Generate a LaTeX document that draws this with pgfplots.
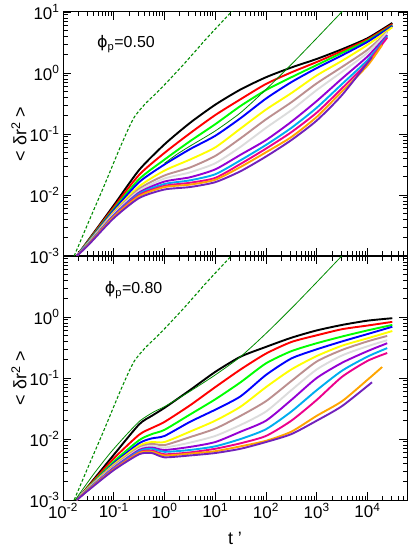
\documentclass[border=0pt]{standalone}
\usepackage{fontspec}
\setmainfont{Liberation Sans}
\newfontfamily\dejavu{DejaVu Sans}
\usepackage{pgfplots}
\pgfplotsset{compat=1.18}
\definecolor{gbrown}{RGB}{188,143,143}
\definecolor{ggrey}{RGB}{220,220,220}
\definecolor{gviolet}{RGB}{148,0,211}
\definecolor{gorange}{RGB}{255,165,0}
\definecolor{gindigo}{RGB}{114,33,188}
\definecolor{ggreen}{RGB}{0,255,0}
\definecolor{ggreenfour}{RGB}{0,139,0}
\definecolor{gyellow}{RGB}{255,255,0}
% Both axes are drawn on log10 scales: the data below are log10(t') and log10(<dr^2>),
% tick labels give the decades.
\pgfplotsset{
 msdaxis/.style={
  scale only axis, width=344bp, height=244bp,
  xmin=-2, xmax=4.78, ymin=-3, ymax=1,
  tick align=inside, major tick length=8bp, minor tick length=4.5bp,
  tick style={black, line width=0.8bp},
  axis line style={line width=1bp},
  xtick={-2,-1,0,1,2,3,4},
  minor xtick={-1.699,-1.523,-1.398,-1.301,-1.222,-1.155,-1.097,-1.046,-0.699,-0.523,-0.398,-0.301,-0.222,-0.155,-0.097,-0.046,0.301,0.477,0.602,0.699,0.778,0.845,0.903,0.954,1.301,1.477,1.602,1.699,1.778,1.845,1.903,1.954,2.301,2.477,2.602,2.699,2.778,2.845,2.903,2.954,3.301,3.477,3.602,3.699,3.778,3.845,3.903,3.954,4.301,4.477,4.602,4.699},
  ytick={-3,-2,-1,0,1},
  minor ytick={-2.699,-2.523,-2.398,-2.301,-2.222,-2.155,-2.097,-2.046,-1.699,-1.523,-1.398,-1.301,-1.222,-1.155,-1.097,-1.046,-0.699,-0.523,-0.398,-0.301,-0.222,-0.155,-0.097,-0.046,0.301,0.477,0.602,0.699,0.778,0.845,0.903,0.954},
  tick label style={font=\fontsize{17}{17}\selectfont},
  label style={font=\fontsize{18}{18}\selectfont},
  ylabel={< δr\textsuperscript{2} >},
  ylabel style={at={(axis description cs:-0.128,0.5)}, anchor=center},
 },
 cv/.style={line width=1.9bp, smooth, tension=0.4},
 thinref/.style={ggreenfour, line width=0.8bp, smooth, tension=0.4},
 dashref/.style={ggreenfour, line width=1.1bp, dash pattern=on 3bp off 2bp, smooth, tension=0.4},
}
\begin{document}
\begin{tikzpicture}
\path[use as bounding box] (-63bp,-48bp) rectangle (346bp,500bp);
% ---------------- top panel, phi_p = 0.50 ----------------
\begin{axis}[msdaxis, at={(0,244bp)}, anchor=south west,
  xticklabels={},
  yticklabels={10\textsuperscript{-3},10\textsuperscript{-2},10\textsuperscript{-1},10\textsuperscript{0},10\textsuperscript{1}}]
\addplot[cv, black] coordinates {(-1.73,-3.0) (-1.5,-2.74) (-1.0,-2.17) (-0.5,-1.59) (0.0,-1.17) (0.5,-0.82) (1.0,-0.52) (1.5,-0.27) (2.0,-0.07) (2.5,0.09) (3.0,0.23) (3.5,0.39) (4.0,0.57) (4.49,0.82)};
\addplot[cv, red] coordinates {(-1.73,-3.0) (-1.5,-2.75) (-1.0,-2.20) (-0.5,-1.67) (0.0,-1.31) (0.5,-0.99) (1.0,-0.69) (1.5,-0.43) (2.0,-0.18) (2.5,0.01) (3.0,0.18) (3.5,0.36) (4.0,0.55) (4.49,0.80)};
\addplot[cv, ggreen] coordinates {(-1.73,-3.0) (-1.5,-2.76) (-1.0,-2.23) (-0.5,-1.74) (0.0,-1.42) (0.5,-1.12) (1.0,-0.84) (1.5,-0.54) (2.0,-0.28) (2.5,-0.07) (3.0,0.13) (3.5,0.33) (4.0,0.53) (4.49,0.78)};
\addplot[cv, blue] coordinates {(-1.73,-3.0) (-1.5,-2.77) (-1.0,-2.25) (-0.5,-1.79) (0.0,-1.50) (0.5,-1.25) (1.0,-1.03) (1.5,-0.74) (2.0,-0.42) (2.5,-0.15) (3.0,0.08) (3.5,0.29) (4.0,0.51) (4.49,0.77)};
\addplot[cv, gyellow] coordinates {(-1.73,-3.0) (-1.5,-2.78) (-1.0,-2.28) (-0.5,-1.86) (0.0,-1.60) (0.5,-1.42) (1.0,-1.22) (1.5,-0.91) (2.0,-0.60) (2.5,-0.33) (3.0,-0.04) (3.5,0.20) (4.0,0.46) (4.49,0.75)};
\addplot[cv, gbrown] coordinates {(-1.73,-3.0) (-1.5,-2.79) (-1.0,-2.30) (-0.5,-1.90) (0.0,-1.68) (0.5,-1.55) (1.0,-1.36) (1.5,-1.07) (2.0,-0.76) (2.5,-0.48) (3.0,-0.17) (3.5,0.10) (4.0,0.38) (4.39,0.67)};
\addplot[cv, ggrey] coordinates {(-1.73,-3.0) (-1.5,-2.79) (-1.0,-2.31) (-0.5,-1.93) (0.0,-1.73) (0.5,-1.63) (1.0,-1.48) (1.5,-1.21) (2.0,-0.90) (2.5,-0.61) (3.0,-0.28) (3.5,0.02) (4.0,0.33) (4.39,0.66)};
\addplot[cv, gviolet] coordinates {(-1.73,-3.0) (-1.5,-2.80) (-1.0,-2.33) (-0.5,-1.96) (0.0,-1.78) (0.5,-1.71) (1.0,-1.58) (1.5,-1.34) (2.0,-1.10) (2.5,-0.80) (3.0,-0.46) (3.5,-0.09) (4.0,0.27) (4.39,0.62)};
\addplot[cv, cyan] coordinates {(-1.73,-3.0) (-1.5,-2.80) (-1.0,-2.34) (-0.5,-1.98) (0.0,-1.82) (0.5,-1.76) (1.0,-1.66) (1.5,-1.43) (2.0,-1.18) (2.5,-0.90) (3.0,-0.57) (3.5,-0.18) (4.0,0.21) (4.39,0.60)};
\addplot[cv, magenta] coordinates {(-1.73,-3.0) (-1.5,-2.81) (-1.0,-2.35) (-0.5,-2.0) (0.0,-1.85) (0.5,-1.80) (1.0,-1.72) (1.5,-1.49) (2.0,-1.24) (2.5,-0.97) (3.0,-0.65) (3.5,-0.25) (4.0,0.17) (4.39,0.58)};
\addplot[cv, gorange] coordinates {(-1.73,-3.0) (-1.5,-2.81) (-1.0,-2.36) (-0.5,-2.02) (0.0,-1.87) (0.5,-1.83) (1.0,-1.75) (1.5,-1.54) (2.0,-1.30) (2.5,-1.05) (3.0,-0.72) (3.5,-0.30) (4.0,0.12) (4.29,0.46)};
\addplot[cv, gindigo] coordinates {(-1.73,-3.0) (-1.5,-2.82) (-1.0,-2.38) (-0.5,-2.05) (0.0,-1.91) (0.5,-1.87) (1.0,-1.79) (1.5,-1.61) (2.0,-1.37) (2.5,-1.10) (3.0,-0.78) (3.5,-0.36) (4.09,0.26)};
\addplot[thinref] coordinates {(0.0,-1.48) (0.25,-1.33) (0.5,-1.20) (1.0,-0.95) (1.5,-0.65) (2.0,-0.27) (2.5,0.14) (3.0,0.57) (3.55,1.05)};
\addplot[dashref] coordinates {(-1.78,-3.0) (-1.5,-2.45) (-1.2,-1.87) (-0.9,-1.27) (-0.72,-0.93) (-0.6,-0.73) (-0.48,-0.60) (-0.35,-0.48) (-0.1,-0.28) (0.31,0.08) (0.6,0.35) (0.8,0.54) (1.0,0.72) (1.35,1.03)};
\node[anchor=west, inner sep=0pt, font=\fontsize{16}{16}\selectfont] at (axis cs:-1.33,0.477) {{\dejavu ϕ}\textsubscript{p}=0.50};
\end{axis}
% ---------------- bottom panel, phi_p = 0.80 ----------------
\begin{axis}[msdaxis, at={(0,0)}, anchor=south west,
  xlabel={t '},
  xlabel style={at={(axis description cs:0.5,-0.156)}, anchor=center},
  xticklabels={10\textsuperscript{-2},10\textsuperscript{-1},10\textsuperscript{0},10\textsuperscript{1},10\textsuperscript{2},10\textsuperscript{3},10\textsuperscript{4}},
  yticklabels={10\textsuperscript{-3},10\textsuperscript{-2},10\textsuperscript{-1},10\textsuperscript{0},{}}]
\addplot[cv, black] coordinates {(-1.73,-3.0) (-1.5,-2.77) (-1.0,-2.26) (-0.5,-1.76) (-0.25,-1.62) (0.0,-1.49) (0.5,-1.20) (1.0,-0.90) (1.5,-0.65) (2.0,-0.49) (2.5,-0.34) (3.0,-0.22) (3.5,-0.13) (4.0,-0.06) (4.49,-0.02)};
\addplot[cv, red] coordinates {(-1.73,-3.0) (-1.5,-2.78) (-1.0,-2.32) (-0.5,-1.93) (-0.25,-1.82) (0.0,-1.72) (0.5,-1.45) (1.0,-1.15) (1.5,-0.86) (2.0,-0.60) (2.5,-0.41) (3.0,-0.30) (3.5,-0.20) (4.0,-0.14) (4.49,-0.08)};
\addplot[cv, ggreen] coordinates {(-1.73,-3.0) (-1.5,-2.79) (-1.0,-2.37) (-0.5,-2.02) (-0.25,-1.92) (0.0,-1.85) (0.5,-1.60) (1.0,-1.35) (1.5,-1.07) (2.0,-0.76) (2.5,-0.56) (3.0,-0.43) (3.5,-0.32) (4.0,-0.22) (4.49,-0.13)};
\addplot[cv, blue] coordinates {(-1.73,-3.0) (-1.5,-2.80) (-1.0,-2.40) (-0.5,-2.07) (-0.25,-1.99) (0.0,-1.95) (0.5,-1.72) (1.0,-1.52) (1.5,-1.30) (2.0,-0.95) (2.5,-0.68) (3.0,-0.53) (3.5,-0.40) (4.0,-0.28) (4.49,-0.16)};
\addplot[cv, gyellow] coordinates {(-1.73,-3.0) (-1.5,-2.80) (-1.0,-2.42) (-0.5,-2.11) (-0.25,-2.05) (0.0,-2.05) (0.5,-1.88) (1.0,-1.70) (1.5,-1.47) (2.0,-1.15) (2.5,-0.86) (3.0,-0.64) (3.5,-0.47) (4.0,-0.35) (4.49,-0.23)};
\addplot[cv, gbrown] coordinates {(-1.73,-3.0) (-1.5,-2.81) (-1.0,-2.44) (-0.5,-2.14) (-0.25,-2.08) (0.0,-2.10) (0.5,-1.97) (1.0,-1.83) (1.5,-1.62) (2.0,-1.38) (2.5,-1.05) (3.0,-0.73) (3.5,-0.54) (4.0,-0.40) (4.39,-0.31)};
\addplot[cv, ggrey] coordinates {(-1.73,-3.0) (-1.5,-2.81) (-1.0,-2.46) (-0.5,-2.16) (-0.25,-2.11) (0.0,-2.14) (0.5,-2.06) (1.0,-1.95) (1.5,-1.77) (2.0,-1.55) (2.5,-1.20) (3.0,-0.86) (3.5,-0.63) (4.0,-0.48) (4.39,-0.38)};
\addplot[cv, gviolet] coordinates {(-1.73,-3.0) (-1.5,-2.82) (-1.0,-2.47) (-0.5,-2.18) (-0.25,-2.14) (0.0,-2.18) (0.5,-2.13) (1.0,-2.05) (1.5,-1.88) (2.0,-1.70) (2.5,-1.36) (3.0,-1.0) (3.5,-0.75) (4.0,-0.56) (4.39,-0.43)};
\addplot[cv, cyan] coordinates {(-1.73,-3.0) (-1.5,-2.82) (-1.0,-2.48) (-0.5,-2.20) (-0.25,-2.16) (0.0,-2.21) (0.5,-2.18) (1.0,-2.12) (1.5,-2.0) (2.0,-1.84) (2.5,-1.55) (3.0,-1.20) (3.5,-0.88) (4.0,-0.65) (4.39,-0.51)};
\addplot[cv, magenta] coordinates {(-1.73,-3.0) (-1.5,-2.83) (-1.0,-2.49) (-0.5,-2.22) (-0.25,-2.19) (0.0,-2.25) (0.5,-2.22) (1.0,-2.16) (1.5,-2.07) (2.0,-1.95) (2.5,-1.70) (3.0,-1.36) (3.5,-0.98) (4.0,-0.72) (4.39,-0.59)};
\addplot[cv, gorange] coordinates {(-1.73,-3.0) (-1.5,-2.83) (-1.0,-2.50) (-0.5,-2.23) (-0.25,-2.21) (0.0,-2.27) (0.5,-2.24) (1.0,-2.20) (1.5,-2.12) (2.0,-2.03) (2.5,-1.88) (3.0,-1.62) (3.5,-1.38) (4.0,-1.03) (4.29,-0.82)};
\addplot[cv, gindigo] coordinates {(-1.73,-3.0) (-1.5,-2.84) (-1.0,-2.51) (-0.5,-2.25) (-0.25,-2.23) (0.0,-2.30) (0.5,-2.27) (1.0,-2.23) (1.5,-2.16) (2.0,-2.05) (2.5,-1.92) (3.0,-1.70) (3.5,-1.46) (4.09,-1.07)};
\addplot[thinref] coordinates {(-1.76,-3.0) (-1.4,-2.58) (-1.07,-2.23) (-0.75,-1.93) (-0.48,-1.70) (-0.2,-1.55) (0.0,-1.47) (0.5,-1.22) (1.0,-0.95) (1.5,-0.65) (2.0,-0.27) (2.5,0.14) (3.0,0.57) (3.55,1.05)};
\addplot[dashref] coordinates {(-1.78,-3.0) (-1.5,-2.45) (-1.2,-1.87) (-0.9,-1.27) (-0.72,-0.93) (-0.6,-0.73) (-0.48,-0.60) (-0.35,-0.48) (-0.1,-0.28) (0.31,0.08) (0.6,0.35) (0.8,0.54) (1.0,0.72) (1.35,1.03)};
\node[anchor=west, inner sep=0pt, font=\fontsize{16}{16}\selectfont] at (axis cs:-1.18,0.44) {{\dejavu ϕ}\textsubscript{p}=0.80};
\end{axis}
\end{tikzpicture}
\end{document}
